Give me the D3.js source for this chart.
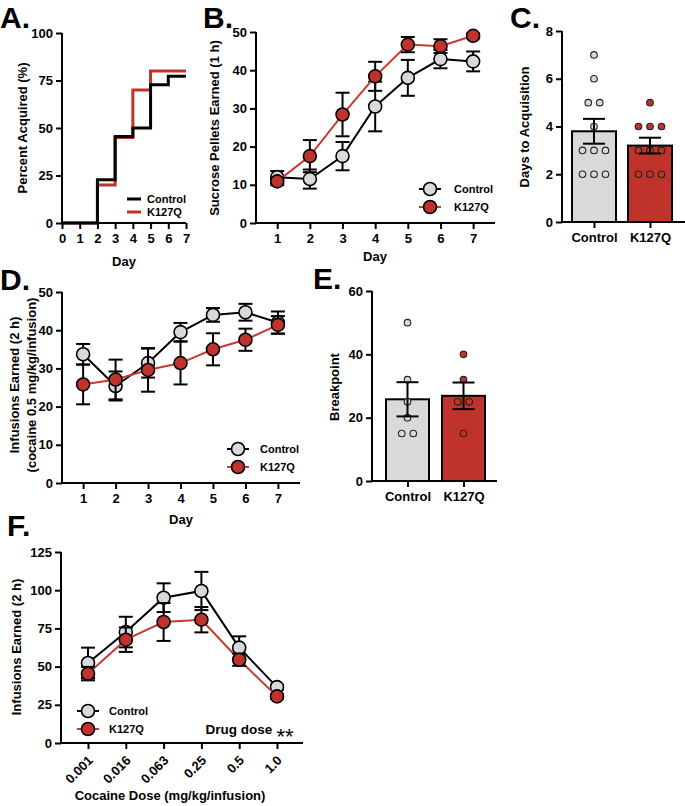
<!DOCTYPE html>
<html><head><meta charset="utf-8">
<script src="https://cdn.jsdelivr.net/npm/d3@7"></script>
<style>
body{margin:0;background:#fff;}
svg text{font-family:"Liberation Sans",Arial,sans-serif;}
</style></head>
<body>
<script>
// ---------- DATA ----------
// Panel A: cumulative percent acquired (step)
const aDays = [0,1,2,3,4,5,6,7];
const aControl = [0,0,22.7,45.5,50,72.7,77.3,77.3];
const aK127Q = [0,0,20,45,70,80,80,80];
const aXTicks = [0,1,2,3,4,5,6,7];
const aYTicks = [0,25,50,75,100];

// Panel B: sucrose pellets
const bDays = [1,2,3,4,5,6,7];
const bCtrlMean = [12.0,11.5,17.5,30.5,38.0,42.9,42.3];
const bCtrlSem  = [1.6,2.5,3.7,6.5,4.7,2.4,2.6];
const bKMean = [10.9,17.5,28.4,38.4,46.7,46.3,49.0];
const bKSem  = [1.0,4.2,5.7,3.8,2.0,1.8,0.6];
const bYTicks = [0,10,20,30,40,50];

// Panel C: days to acquisition
const groups = ["Control","K127Q"];
const cMean = [3.8,3.2];
const cSem = [0.52,0.33];
const cCtrlPts = [7,6,5,5,4,3,3,3,2,2,2];
const cKPts = [5,4,4,4,3,3,3,2,2,2];
const cYTicks = [0,2,4,6,8];

// Panel D: cocaine infusions
const dDays = [1,2,3,4,5,6,7];
const dCtrlMean = [33.7,25.4,31.4,39.5,44.0,44.7,42.0];
const dCtrlSem  = [2.7,3.8,3.8,2.4,1.8,2.2,2.9];
const dKMean = [25.8,27.1,29.6,31.4,35.0,37.5,41.4];
const dKSem  = [5.2,5.2,5.7,5.6,4.2,2.9,2.3];
const dYTicks = [0,10,20,30,40,50];

// Panel E: breakpoint
const eMean = [25.8,26.9];
const eSem = [5.4,4.2];
const eCtrlPts = [50,32,25,20,15,15];
const eKPts = [40,32,25,25,15];
const eYTicks = [0,20,40,60];

// Panel F: dose response
const fDoses = ["0.001","0.016","0.063","0.25","0.5","1.0"];
const fCtrlMean = [52.4,72.6,95.1,99.5,62.4,36.6];
const fCtrlSem  = [10,10,9.4,12.5,7.4,1.5];
const fKMean = [45.4,67.6,79.2,80.7,54.5,30.5];
const fKSem  = [4.4,8,12.4,8.3,4,1.5];
const fYTicks = [0,25,50,75,100,125];

// ---------- STYLE ----------
const GRAY = "#d9d9d9", RED = "#c0332b", REDLINE = "#c83a2f";
const FONT = '"Liberation Sans",Arial,sans-serif';

const svg = d3.select("body").append("svg").attr("width",685).attr("height",806);

function styleAxis(g){
  g.selectAll("path,line").attr("stroke","#000").attr("stroke-width",2);
  g.selectAll("text").attr("font-family",FONT).attr("font-weight","bold").attr("font-size","13px").attr("fill","#000");
}
function yAxis(x0, y, ticks){
  const g = svg.append("g").attr("transform",`translate(${x0},0)`)
    .call(d3.axisLeft(y).tickValues(ticks).tickSize(6).tickSizeOuter(0).tickPadding(3));
  g.select(".domain").attr("d",`M0,${y.range()[0]+1}V${y.range()[1]}`);
  styleAxis(g);
  return g;
}
function xAxis(y0, x, ticks, range, fmt){
  const ax = d3.axisBottom(x).tickSize(6).tickSizeOuter(0).tickPadding(5);
  if(ticks) ax.tickValues(ticks);
  if(fmt) ax.tickFormat(fmt);
  const g = svg.append("g").attr("transform",`translate(0,${y0})`).call(ax);
  g.select(".domain").attr("d",`M${range[0]-1},0H${range[1]}`);
  styleAxis(g);
  return g;
}
function label(txt, x, y, opts={}){
  const t = svg.append("text").attr("x",x).attr("y",y).text(txt)
    .attr("font-family",FONT).attr("font-weight",opts.weight||"bold")
    .attr("font-size",(opts.size||13)+"px").attr("text-anchor",opts.anchor||"middle");
  if(opts.rotate!==undefined) t.attr("transform",`rotate(${opts.rotate},${x},${y})`);
  return t;
}
function panelLabel(txt,x,y){ label(txt,x,y,{size:30,anchor:"start"}); }

function errBars(x, y, xs, means, sems, cap=7){
  const g = svg.append("g");
  xs.forEach((xv,i)=>{
    const cx = x(xv), top = y(means[i]+sems[i]), bot = y(means[i]-sems[i]);
    g.append("line").attr("x1",cx).attr("x2",cx).attr("y1",top).attr("y2",bot).attr("stroke","#000").attr("stroke-width",2);
    g.append("line").attr("x1",cx-cap).attr("x2",cx+cap).attr("y1",top).attr("y2",top).attr("stroke","#000").attr("stroke-width",2);
    g.append("line").attr("x1",cx-cap).attr("x2",cx+cap).attr("y1",bot).attr("y2",bot).attr("stroke","#000").attr("stroke-width",2);
  });
}
function series(x, y, xs, means, sems, fill, lineColor){
  svg.append("path").datum(xs.map((d,i)=>[d,means[i]]))
    .attr("d", d3.line().x(d=>x(d[0])).y(d=>y(d[1])))
    .attr("fill","none").attr("stroke",lineColor).attr("stroke-width",2);
  errBars(x,y,xs,means,sems);
  svg.append("g").selectAll("circle").data(xs).join("circle")
    .attr("cx",d=>x(d)).attr("cy",(d,i)=>y(means[i])).attr("r",6.5)
    .attr("fill",fill).attr("stroke","#000").attr("stroke-width",1.6);
}
function legendMarker(x, y, fill, lineColor, txt, tx){
  svg.append("line").attr("x1",x-11).attr("x2",x+11).attr("y1",y).attr("y2",y).attr("stroke",lineColor).attr("stroke-width",2);
  svg.append("circle").attr("cx",x).attr("cy",y).attr("r",6.5).attr("fill",fill).attr("stroke","#000").attr("stroke-width",1.6);
  label(txt, tx, y+3.8, {size:11, anchor:"start"});
}
function barPanel(xc, y, means, sems, ptsList, fills, bw){
  const g = svg.append("g");
  groups.forEach((grp,i)=>{
    const cx = xc(grp);
    g.append("rect").attr("x",cx-bw/2).attr("y",y(means[i])).attr("width",bw).attr("height",y(0)-y(means[i]))
      .attr("fill",fills[i]).attr("stroke","#000").attr("stroke-width",2);
  });
  groups.forEach((grp,i)=>{
    const cx = xc(grp);
    const counts = d3.rollup(ptsList[i], v=>v.length, d=>d);
    const seen = new Map();
    ptsList[i].forEach(v=>{
      const n = counts.get(v), k = seen.get(v)||0; seen.set(v,k+1);
      g.append("circle").attr("cx",cx+(k-(n-1)/2)*11.5).attr("cy",y(v)).attr("r",3.3)
        .attr("fill",fills[i]).attr("stroke","#222").attr("stroke-width",1.1);
    });
    const top=y(means[i]+sems[i]), bot=y(means[i]-sems[i]);
    g.append("line").attr("x1",cx).attr("x2",cx).attr("y1",top).attr("y2",bot).attr("stroke","#000").attr("stroke-width",2);
    [top,bot].forEach(yy=>g.append("line").attr("x1",cx-11).attr("x2",cx+11).attr("y1",yy).attr("y2",yy).attr("stroke","#000").attr("stroke-width",2));
  });
}

// ---------- PANEL A ----------
{
  const x = d3.scaleLinear().domain([0,7]).range([62,186]);
  const y = d3.scaleLinear().domain([0,100]).range([223,33]);
  const line = d3.line().x((d,i)=>x(aDays[i])).y(d=>y(d)).curve(d3.curveStepAfter);
  svg.append("path").datum(aK127Q).attr("d",line).attr("fill","none").attr("stroke",RED).attr("stroke-width",3);
  svg.append("path").datum(aControl).attr("d",line).attr("fill","none").attr("stroke","#000").attr("stroke-width",3);
  yAxis(62,y,aYTicks);
  xAxis(223,x,aXTicks,[62,186],d3.format("d"));
  label("Day",124,266);
  label("Percent Acquired (%)",27,128,{rotate:-90});
  svg.append("line").attr("x1",127).attr("x2",141).attr("y1",199).attr("y2",199).attr("stroke","#000").attr("stroke-width",3);
  svg.append("line").attr("x1",127).attr("x2",141).attr("y1",212).attr("y2",212).attr("stroke",RED).attr("stroke-width",3);
  label("Control",147,203,{size:11,anchor:"start"});
  label("K127Q",147,216,{size:11,anchor:"start"});
  panelLabel("A.",0,28);
}

// ---------- PANEL B ----------
{
  const x = d3.scaleLinear().domain([0.35,7.67]).range([256,495]);
  const y = d3.scaleLinear().domain([0,50]).range([223,32]);
  series(x,y,bDays,bCtrlMean,bCtrlSem,GRAY,"#000");
  series(x,y,bDays,bKMean,bKSem,RED,REDLINE);
  yAxis(256,y,bYTicks);
  xAxis(223,x,bDays,[256,495]);
  label("Day",375,261);
  label("Sucrose Pellets Earned (1 h)",219,128,{rotate:-90});
  legendMarker(430,189,GRAY,"#000","Control",454);
  legendMarker(430,207,RED,REDLINE,"K127Q",454);
  panelLabel("B.",203,28);
}

// ---------- PANEL C ----------
{
  const xc = d3.scalePoint().domain(groups).range([594,650]);
  const y = d3.scaleLinear().domain([0,8]).range([222,31]);
  barPanel(xc,y,cMean,cSem,[cCtrlPts,cKPts],[GRAY,RED],44);
  yAxis(562,y,cYTicks);
  xAxis(222,xc,null,[562,685]);
  label("Days to Acquisition",529,127,{rotate:-90});
  panelLabel("C.",510,28);
}

// ---------- PANEL D ----------
{
  const x = d3.scaleLinear().domain([0.35,7.68]).range([62,300]);
  const y = d3.scaleLinear().domain([0,50]).range([483,292]);
  series(x,y,dDays,dCtrlMean,dCtrlSem,GRAY,"#000");
  series(x,y,dDays,dKMean,dKSem,RED,REDLINE);
  yAxis(62,y,dYTicks);
  xAxis(483,x,dDays,[62,300]);
  label("Day",181,524);
  label("Infusions Earned (2 h)",19,385,{rotate:-90});
  label("(cocaine 0.5 mg/kg/infusion)",36,385,{rotate:-90});
  legendMarker(238,449,GRAY,"#000","Control",260);
  legendMarker(238,467,RED,REDLINE,"K127Q",260);
  panelLabel("D.",0,290);
}

// ---------- PANEL E ----------
{
  const xc = d3.scalePoint().domain(groups).range([407.5,463.5]);
  const y = d3.scaleLinear().domain([0,60]).range([481,291]);
  barPanel(xc,y,eMean,eSem,[eCtrlPts,eKPts],[GRAY,RED],43);
  yAxis(372,y,eYTicks);
  xAxis(481,xc,null,[372,497]);
  label("Breakpoint",339,387,{rotate:-90});
  panelLabel("E.",313,289);
}

// ---------- PANEL F ----------
{
  const x = d3.scalePoint().domain(fDoses).range([88,277]);
  const y = d3.scaleLinear().domain([0,125]).range([743,552]);
  series(x,y,fDoses,fCtrlMean,fCtrlSem,GRAY,"#000");
  series(x,y,fDoses,fKMean,fKSem,RED,REDLINE);
  yAxis(61,y,fYTicks);
  const g = xAxis(743,x,null,[61,303]);
  g.selectAll(".tick text").attr("text-anchor","end").attr("dy","0.35em").attr("y",0)
    .attr("transform","translate(2,15) rotate(-45)");
  label("Cocaine Dose (mg/kg/infusion)",170,800);
  label("Infusions Earned (2 h)",21,647,{rotate:-90});
  legendMarker(88,711,GRAY,"#000","Control",109);
  legendMarker(88,729,RED,REDLINE,"K127Q",109);
  label("Drug dose",239,734,{size:13.5});
  label("**",285,744,{size:22,weight:"normal"});
  panelLabel("F.",7,536);
}
</script>
</body></html>
